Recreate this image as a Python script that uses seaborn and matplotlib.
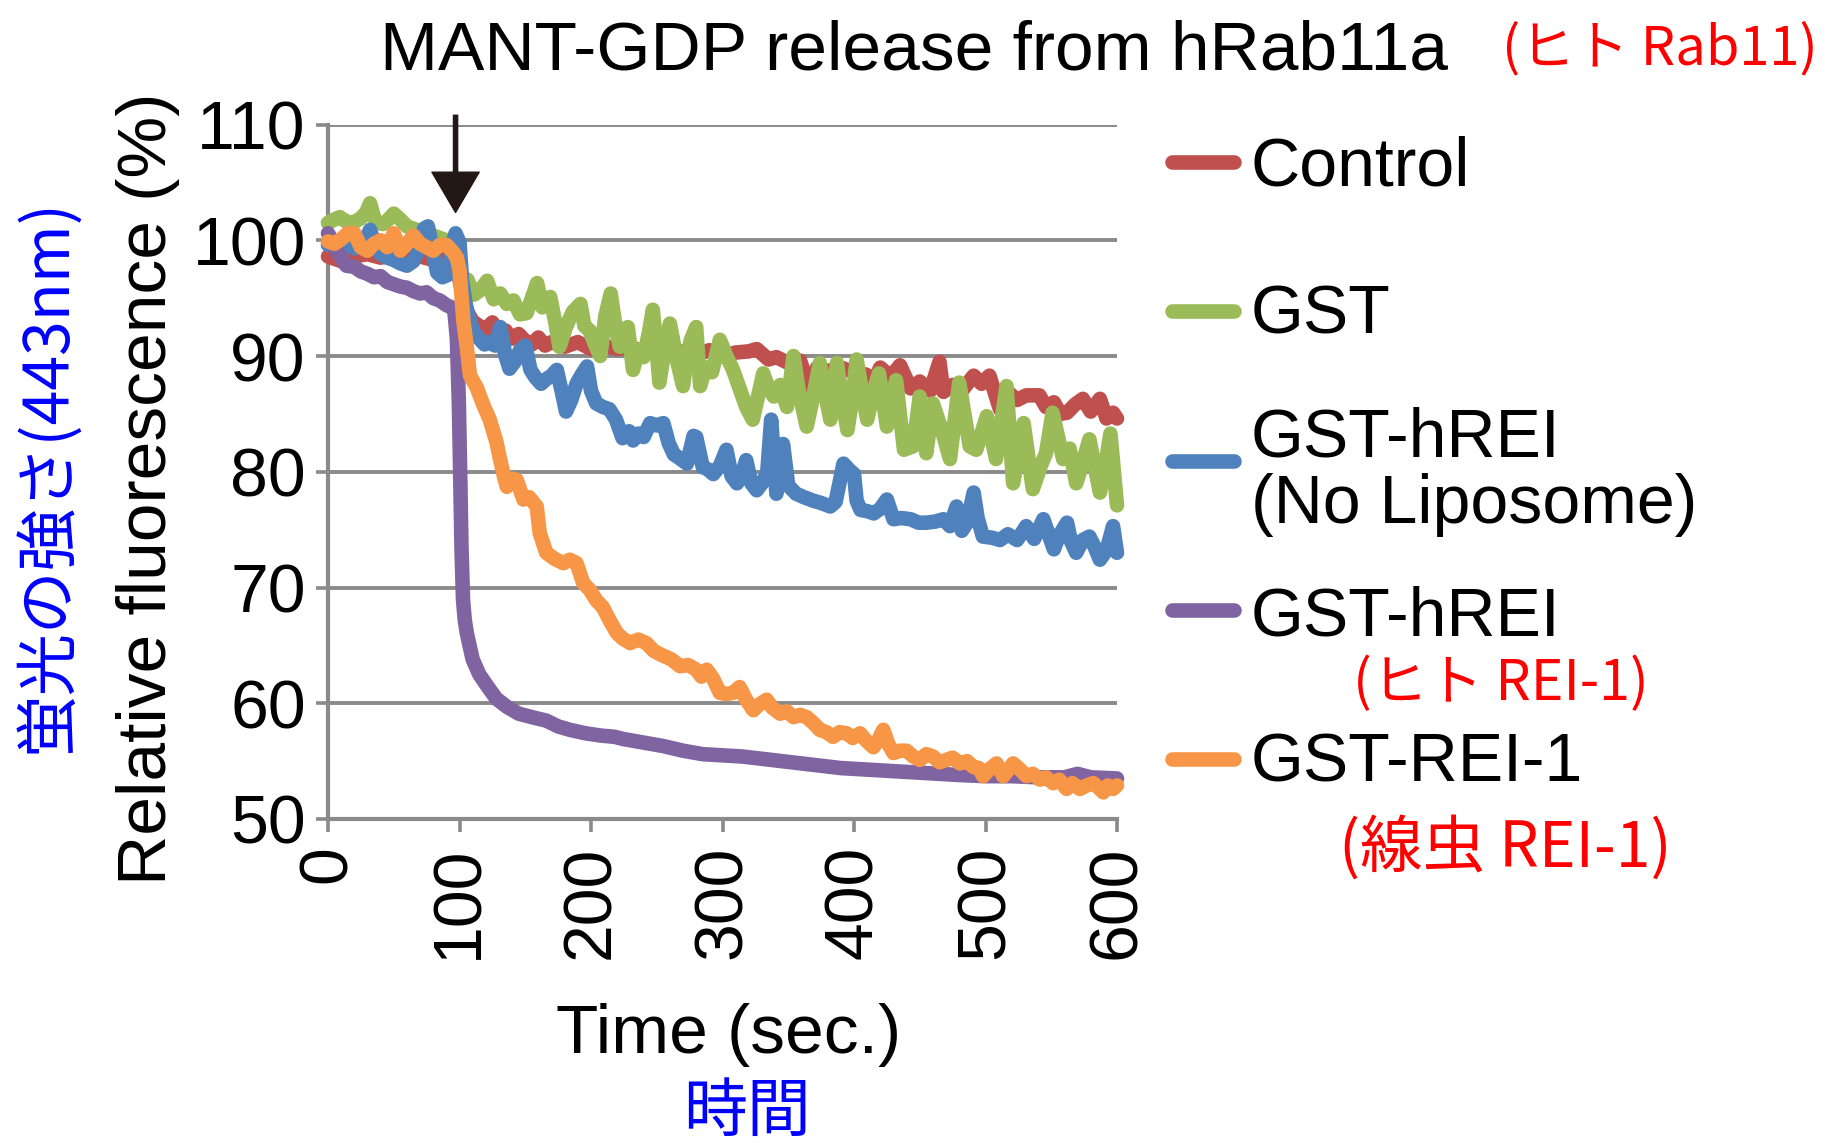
import matplotlib
matplotlib.use("Agg")
import pandas as pd
import matplotlib.pyplot as plt
import seaborn as sns
from matplotlib.lines import Line2D

# values: time (sec.) and relative fluorescence (%)
t_control = [0, 5, 10, 15, 20, 30, 40, 50, 60, 70, 80, 90, 97, 102, 106, 110, 115, 120, 125, 130,
             135, 140, 145, 150, 155, 160, 165, 170, 180, 190, 200, 210, 220, 230, 240, 250, 260, 270,
             280, 290, 300, 310, 320, 326, 335, 341, 350, 359, 366, 372, 380, 390, 400, 409, 415, 420,
             428, 435, 443, 450, 458, 465, 468, 475, 482, 491, 497, 503, 511, 518, 524, 531, 541, 546,
             552, 557, 562, 568, 574, 580, 587, 592, 597, 600]
control = [98.6, 98.4, 98.2, 98.0, 98.6, 98.8, 98.5, 98.7, 98.4, 98.6, 98.3, 98.5, 98.2, 95.5, 93.8,
           93.0, 92.6, 92.3, 92.9, 91.8, 92.2, 91.5, 91.9, 91.3, 91.0, 91.6, 90.9, 91.2, 90.8, 91.2,
           90.6, 90.9, 90.6, 90.8, 90.3, 90.5, 90.2, 90.4, 90.1, 90.5, 90.0, 90.3, 90.4, 90.6, 89.7,
           89.9, 89.4, 89.6, 87.2, 89.0, 88.7, 89.0, 88.6, 88.4, 87.8, 89.0, 88.2, 89.2, 87.2, 87.8,
           87.0, 89.5, 86.9, 87.5, 87.0, 88.3, 87.6, 88.3, 85.4, 86.8, 86.2, 86.6, 86.6, 85.6, 86.0,
           85.0, 85.1, 85.8, 86.3, 85.2, 86.3, 84.6, 85.1, 84.6]

t_gst = [0, 5, 9, 14, 19, 25, 29, 32, 35, 37, 42, 46, 50, 55, 60, 65, 70, 75, 80, 85, 90, 95, 99,
         102, 106, 111, 116, 121, 126, 131, 136, 141, 146, 151, 155, 159, 163, 169, 173, 176, 181,
         186, 192, 195, 199, 203, 207, 211, 215, 219, 222, 225, 228, 232, 236, 240, 244, 247, 250,
         252, 256, 260, 265, 270, 273, 276, 280, 283, 287, 292, 298, 303, 308, 313, 318, 323, 328,
         331, 335, 339, 344, 349, 354, 358, 364, 369, 374, 378, 382, 387, 391, 395, 399, 402, 406,
         410, 415, 419, 425, 432, 438, 445, 450, 455, 460, 467, 473, 480, 488, 493, 501, 508, 516,
         521, 529, 536, 542, 546, 551, 559, 564, 569, 574, 579, 587, 591, 595, 600]
gst = [101.5, 101.8, 102.0, 101.6, 101.5, 101.9, 102.4, 103.2, 102.0, 101.5, 101.4, 101.8, 102.3,
       101.8, 101.2, 101.0, 100.8, 100.6, 100.4, 100.2, 100.0, 99.6, 98.5, 96.5, 96.6, 95.3, 95.7,
       96.5, 94.9, 95.4, 94.5, 94.8, 93.6, 93.7, 95.0, 96.3, 94.2, 95.1, 92.8, 90.8, 92.5, 93.8,
       94.5, 92.6, 92.2, 91.0, 90.0, 93.5, 95.4, 92.3, 90.8, 91.8, 92.5, 88.8, 90.5, 89.9, 92.0,
       94.0, 90.5, 87.7, 90.6, 92.8, 89.8, 87.4, 90.0, 91.4, 92.5, 87.4, 89.0, 88.6, 91.4, 90.0,
       88.8, 87.2, 85.6, 84.5, 87.0, 88.5, 87.2, 86.5, 87.5, 85.6, 90.0, 87.0, 83.9, 86.5, 89.4,
       86.8, 84.5, 89.4, 86.2, 83.6, 86.5, 89.7, 87.0, 84.5, 87.0, 88.5, 83.9, 87.9, 81.9, 82.2,
       86.5, 81.6, 85.9, 83.5, 81.1, 87.7, 82.2, 81.9, 84.8, 81.1, 87.4, 79.0, 84.2, 78.5, 80.5,
       81.6, 85.1, 81.1, 82.0, 79.0, 80.8, 82.8, 78.2, 80.5, 83.3, 77.1]

t_hrei_noli = [0, 5, 10, 15, 20, 25, 29, 32, 35, 40, 45, 50, 55, 60, 65, 70, 73, 76, 79, 83, 87, 91,
               94, 97, 100, 102, 105, 108, 111, 115, 119, 123, 127, 131, 135, 138, 142, 146, 150, 154,
               158, 162, 166, 170, 174, 178, 181, 185, 189, 193, 197, 200, 204, 209, 214, 219, 224,
               229, 232, 236, 240, 245, 250, 255, 259, 263, 267, 273, 278, 280, 285, 289, 293, 298,
               303, 307, 311, 314, 318, 322, 326, 330, 334, 337, 341, 344, 346, 350, 356, 362, 369,
               375, 382, 386, 392, 396, 400, 402, 405, 410, 415, 420, 425, 430, 436, 443, 449, 455,
               462, 468, 473, 478, 482, 486, 491, 494, 498, 505, 511, 517, 524, 527, 531, 537, 544,
               552, 556, 562, 565, 569, 574, 579, 583, 587, 592, 597, 600]
hrei_noli = [99.6, 99.8, 99.4, 99.6, 99.3, 99.5, 100.2, 100.9, 99.8, 98.8, 98.5, 98.3, 98.0, 97.8,
             98.2, 99.5, 101.0, 101.2, 99.5, 97.2, 96.8, 97.0, 99.5, 100.6, 99.8, 96.5, 94.3, 93.0,
             92.0, 91.5, 91.0, 91.2, 90.9, 92.5, 90.0, 88.9, 89.5, 90.5, 90.9, 88.8, 88.1, 87.6,
             88.0, 88.3, 88.8, 86.8, 85.2, 86.2, 87.6, 88.4, 89.1, 87.0, 85.9, 85.6, 85.4, 84.5,
             82.9, 83.5, 82.7, 83.3, 83.0, 84.2, 84.0, 84.2, 82.5, 81.5, 81.2, 80.7, 83.1, 83.0,
             80.4, 80.2, 79.8, 80.5, 81.9, 79.6, 79.0, 79.5, 81.0, 79.0, 78.4, 79.0, 79.9, 84.5,
             78.1, 80.0, 82.4, 78.8, 78.1, 77.8, 77.5, 77.3, 77.0, 77.4, 80.7, 80.2, 79.8, 77.5,
             76.7, 76.6, 76.4, 76.8, 77.6, 75.9, 76.0, 75.9, 75.6, 75.6, 75.7, 75.9, 75.3, 77.0,
             74.9, 75.6, 78.2, 76.0, 74.4, 74.3, 74.1, 74.6, 74.1, 74.6, 75.3, 74.2, 75.9, 73.3,
             74.5, 75.6, 74.0, 73.0, 74.1, 74.4, 73.5, 72.4, 73.2, 75.3, 73.0]

t_hrei = [0, 3, 6, 10, 14, 20, 25, 30, 35, 40, 45, 50, 55, 60, 65, 70, 75, 80, 85, 90, 94, 96, 98,
          99.5, 100.5, 101.5, 102.7, 104, 105.5, 108, 110, 115, 121, 128, 136, 145, 155, 166, 175,
          184, 196, 208, 218, 225, 240, 255, 270, 285, 300, 315, 330, 345, 360, 375, 390, 405, 420,
          435, 450, 465, 480, 500, 520, 540, 560, 570, 580, 600]
hrei = [100.6, 100.0, 99.2, 98.5, 97.8, 97.7, 97.3, 97.1, 96.8, 96.9, 96.4, 96.2, 96.0, 95.9, 95.6,
        95.4, 95.5, 95.0, 94.8, 94.4, 94.2, 94.0, 91.5, 86.0, 80.0, 73.5, 68.9, 67.2, 66.1, 64.8,
        63.8, 62.5, 61.5, 60.4, 59.7, 59.1, 58.8, 58.5, 58.0, 57.7, 57.4, 57.2, 57.1, 56.9, 56.6,
        56.3, 55.9, 55.6, 55.5, 55.4, 55.2, 55.0, 54.8, 54.6, 54.4, 54.3, 54.2, 54.1, 54.0, 53.9,
        53.8, 53.7, 53.7, 53.6, 53.6, 53.9, 53.6, 53.5]

t_rei1 = [0, 5, 10, 15, 20, 25, 30, 35, 40, 45, 50, 55, 60, 65, 70, 75, 80, 85, 90, 95, 98, 100,
          103, 105.5, 108, 113, 118, 123, 128, 131, 134, 136, 140, 143.5, 148.6, 153, 158.7, 161,
          166, 172, 179, 184, 189, 194, 199, 204, 209, 214, 219.5, 224, 229.7, 236, 242, 248, 255,
          261, 267.7, 274, 280, 284, 288, 293, 298, 303, 308, 313, 318, 323.5, 328, 333.6, 338,
          343.8, 349, 354, 359, 364, 369, 374, 379, 384, 389, 394.5, 399, 404.6, 409, 414.7, 418,
          422.3, 426, 430, 435, 440, 445, 450, 455, 460, 465, 470, 475, 480.5, 486, 490.7, 495,
          498.3, 503, 508.4, 513.5, 517, 521, 526, 531.3, 536, 541.4, 546, 551.5, 556, 561.7, 566,
          571.8, 577, 582, 586, 589.6, 593, 597, 600]
rei1 = [99.9, 99.7, 100.1, 100.6, 100.6, 99.4, 99.1, 99.7, 100.0, 99.4, 100.6, 99.1, 99.7, 100.4,
        99.7, 99.4, 99.1, 99.6, 99.6, 99.0, 98.5, 97.4, 93.0, 90.8, 88.3, 87.3, 85.8, 84.5, 82.6,
        81.0, 79.5, 78.7, 79.4, 79.3, 77.6, 77.8, 77.0, 74.7, 73.0, 72.5, 72.1, 72.4, 72.1, 70.4,
        69.8, 68.9, 68.3, 67.2, 66.1, 65.6, 65.2, 65.5, 65.2, 64.5, 64.1, 63.8, 63.2, 63.3, 62.9,
        62.3, 62.9, 62.1, 60.9, 60.8, 60.9, 61.4, 60.3, 59.4, 59.9, 60.3, 59.6, 59.1, 59.3, 58.8,
        59.0, 58.8, 58.3, 57.7, 57.5, 57.1, 57.5, 57.4, 57.0, 57.4, 56.8, 56.2, 56.7, 57.7, 56.5,
        55.7, 55.9, 55.9, 55.4, 55.1, 55.6, 55.4, 54.9, 55.1, 55.3, 54.8, 55.0, 54.5, 54.4, 53.7,
        54.3, 54.8, 53.7, 54.2, 54.8, 54.3, 53.7, 53.9, 53.4, 53.6, 53.1, 53.4, 52.6, 53.1, 52.6,
        52.9, 53.1, 52.7, 52.3, 52.9, 52.6, 52.9]

series_names = ["Control", "GST", "GST-hREI (No Liposome)", "GST-hREI", "GST-REI-1"]
legend_labels = ["Control", "GST", "GST-hREI\n(No Liposome)", "GST-hREI", "GST-REI-1"]
colors = ["#C0504D", "#9BBB59", "#4F81BD", "#8064A2", "#F79646"]
x_ticks = [0, 100, 200, 300, 400, 500, 600]
y_ticks = [50, 60, 70, 80, 90, 100, 110]

frames = []
for name, t, v in zip(series_names,
                      [t_control, t_gst, t_hrei_noli, t_hrei, t_rei1],
                      [control, gst, hrei_noli, hrei, rei1]):
    frames.append(pd.DataFrame({"time": t, "value": v, "series": name}))
df = pd.concat(frames, ignore_index=True)

sns.set_style("white")
plt.rcParams["font.family"] = ["Liberation Sans", "DejaVu Sans"]
plt.rcParams["text.color"] = "black"
JP = ["Noto Sans CJK JP", "DejaVu Sans"]
GRAY = "#8a8a8a"

W, H = 1825, 1148
fig = plt.figure(figsize=(W / 100, H / 100), dpi=100)
ax = fig.add_axes([328 / W, 1 - 819 / H, (1117 - 328) / W, (819 - 124.5) / H])

for i, (name, col) in enumerate(zip(series_names, colors)):
    sub = df[df["series"] == name]
    sns.lineplot(data=sub, x="time", y="value", color=col, sort=False,
                 estimator=None, ax=ax, zorder=3 + i)
# thick Excel-style strokes
for ln in ax.lines:
    ln.set_linewidth(10.5)
    ln.set_solid_capstyle("round")
    ln.set_solid_joinstyle("round")
    ln.set_clip_on(False)

ax.set_xlim(0, 600)
ax.set_ylim(50, 110)
ax.set_xticks(x_ticks)
ax.set_xticklabels([str(x) for x in x_ticks], rotation=90)
ax.set_yticks(y_ticks)
ax.set_xlabel("")
ax.set_ylabel("")
ax.set_axisbelow(True)
ax.yaxis.grid(True, color=GRAY, linewidth=2.8)
ax.xaxis.grid(False)
for s in ["top", "right"]:
    ax.spines[s].set_visible(False)
for s in ["left", "bottom"]:
    ax.spines[s].set_color(GRAY)
    ax.spines[s].set_linewidth(3)
ax.tick_params(axis="both", direction="out", length=9, width=2.6, color=GRAY,
               labelsize=49, labelcolor="black", bottom=True, left=True)
ax.tick_params(axis="x", pad=10)
ax.tick_params(axis="y", pad=7)

# arrow marking the addition at ~100 s
ax.annotate("", xy=(97, 102.4), xytext=(97, 110.8), annotation_clip=False,
            arrowprops=dict(facecolor="#231815", edgecolor="#231815", width=3,
                            headwidth=34, headlength=29, shrink=0))

# texts
fig.text(914 / W, 1 - 70 / H, "MANT-GDP release from hRab11a", ha="center",
         va="baseline", fontsize=50, color="black")
fig.text(1818 / W, 1 - 49 / H, "(ヒト Rab11)", ha="right", va="center",
         color="#ff0000", fontsize=39, family=JP)
fig.text(148 / W, 1 - 489 / H, "Relative fluorescence (%)", rotation=90,
         ha="center", va="center", fontsize=50, color="black")
fig.text(48 / W, 1 - 476 / H, "蛍光の強さ(443nm)", rotation=90, ha="center",
         va="center", color="#0000ff", fontsize=45, family=JP)
fig.text(729 / W, 1 - 1053 / H, "Time (sec.)", ha="center", va="baseline",
         fontsize=50, color="black")
fig.text(747 / W, 1 - 1113 / H, "時間", ha="center", va="center",
         color="#0000ff", fontsize=46, family=JP)

# legend, drawn by hand because the entries are not evenly spaced
line_y = [162, 311, 461, 610, 759]
text_base = [[185], [334], [456, 523], [635], [782]]
for col, lab, ly, tb in zip(colors, legend_labels, line_y, text_base):
    fig.add_artist(Line2D([1172 / W, 1234 / W], [1 - ly / H, 1 - ly / H], color=col,
                          linewidth=10.5, solid_capstyle="round",
                          transform=fig.transFigure))
    for part, b in zip(lab.split("\n"), tb):
        fig.text(1251 / W, 1 - b / H, part, ha="left", va="baseline", fontsize=49,
                 color="black")

fig.text(1501 / W, 1 - 684 / H, "(ヒト REI-1)", ha="center", va="center",
         color="#ff0000", fontsize=40, family=JP)
fig.text(1505 / W, 1 - 848 / H, "(線虫 REI-1)", ha="center", va="center",
         color="#ff0000", fontsize=45, family=JP)

fig.savefig("out.png", dpi=100)
